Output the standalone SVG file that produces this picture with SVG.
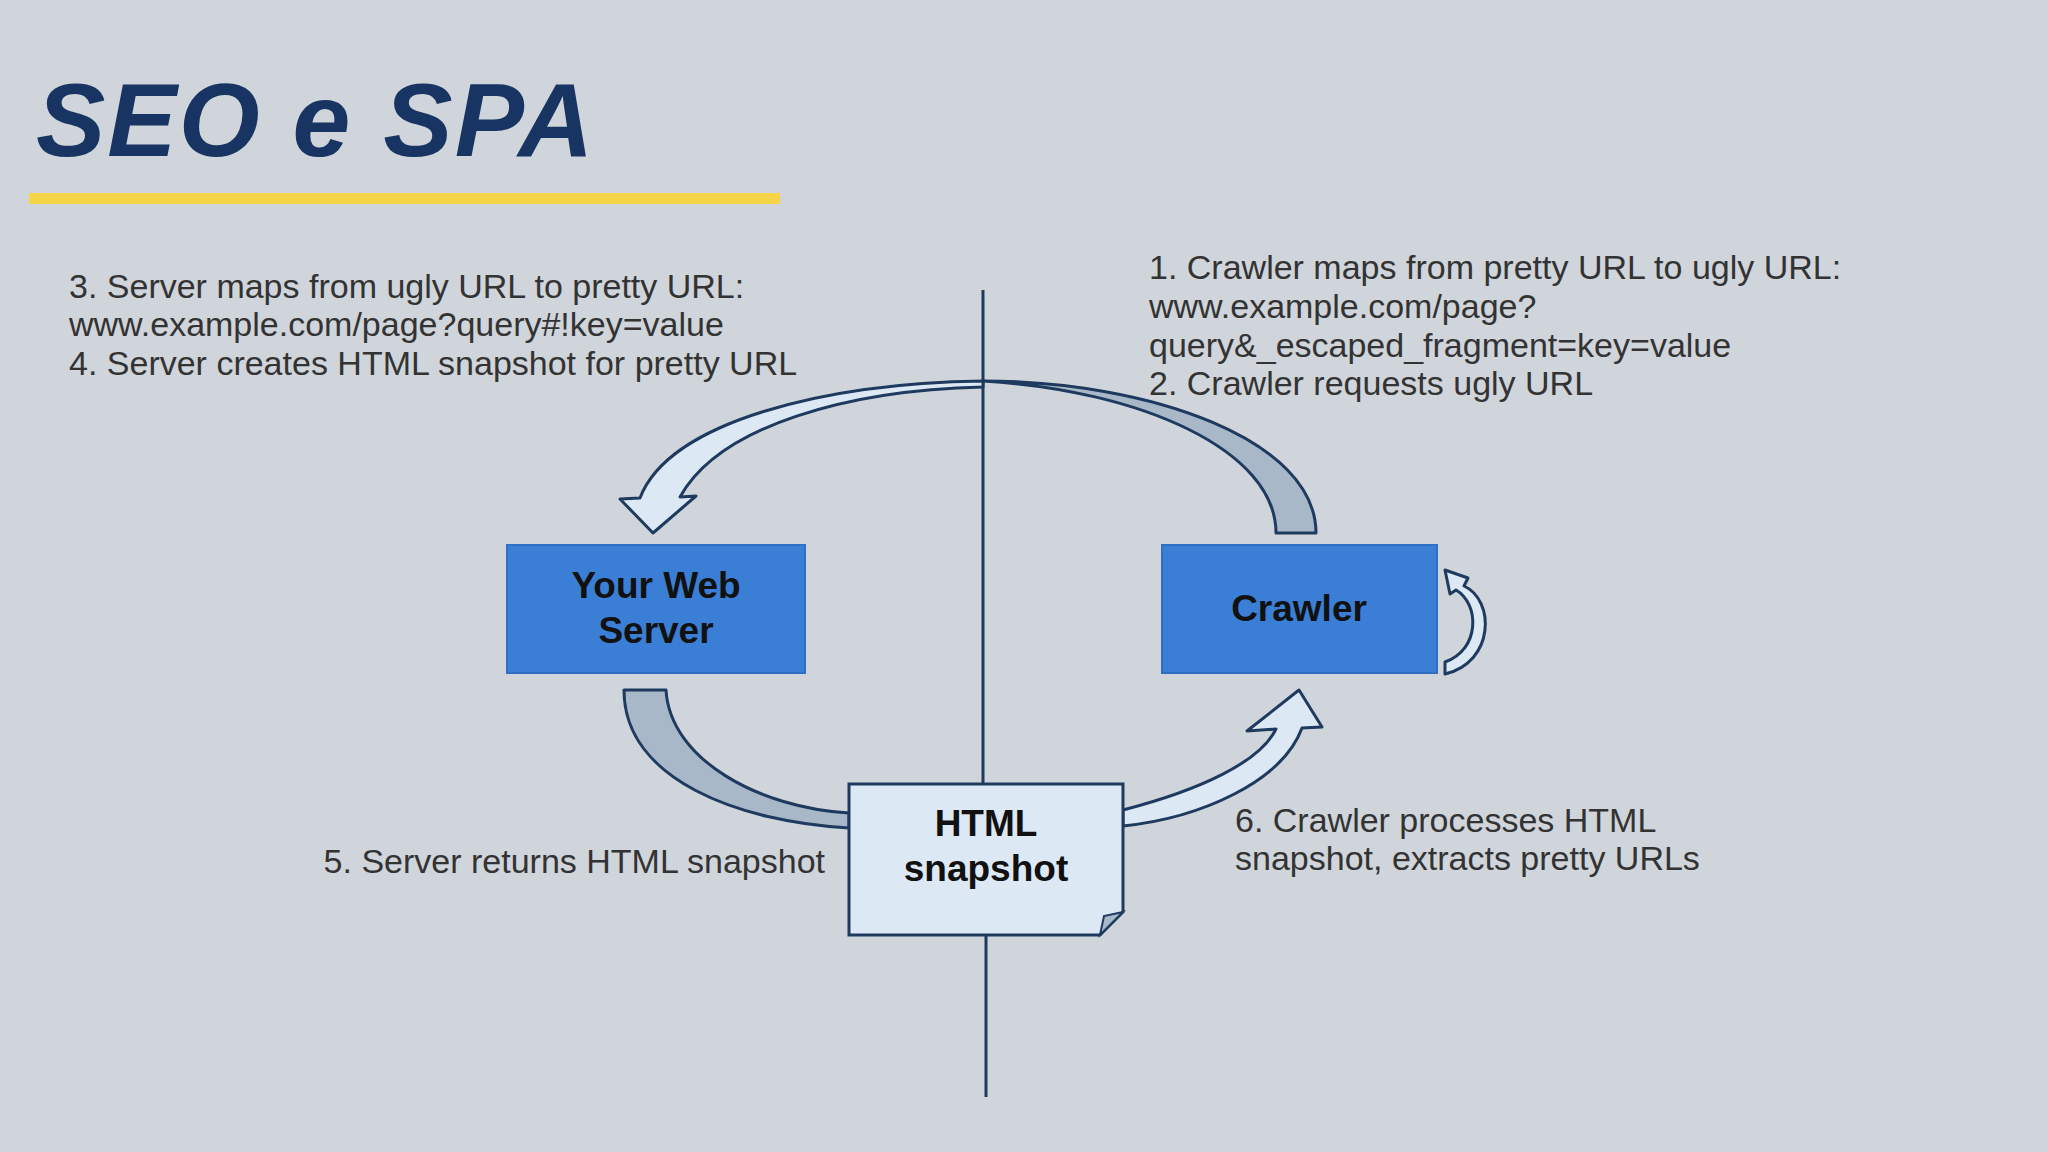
<svg xmlns="http://www.w3.org/2000/svg" width="2048" height="1152" viewBox="0 0 2048 1152">
<style>
.t{font-family:"Liberation Sans",Arial,sans-serif;font-size:34px;fill:#333}
.n{font-family:"Liberation Sans",Arial,sans-serif;font-size:37px;fill:#111;text-anchor:middle;font-weight:bold}
.box{fill:#3a7fd5;stroke:#2e6fc4;stroke-width:2}
.ad{fill:#a9b8c8;stroke:#1e3a5f;stroke-width:3;stroke-linejoin:round}
.al{fill:#dde8f5;stroke:#1e3a5f;stroke-width:3;stroke-linejoin:round}
</style>
<rect width="2048" height="1152" fill="#d0d5db"/>
<text x="36" y="156" font-family="Liberation Sans,Arial,sans-serif" font-size="104" font-weight="bold" font-style="italic" fill="#173463" letter-spacing="2">SEO e SPA</text>
<rect x="29" y="193" width="751" height="11" fill="#f5d547"/>
<g id="connectors">
<line x1="983" y1="290" x2="983" y2="784" stroke="#1e3a5f" stroke-width="3"/>
<line x1="986" y1="935" x2="986" y2="1097" stroke="#1e3a5f" stroke-width="3"/>
<path class="ad" d="M1316,533 C1316,440 1150,381 983,381 C1140,390 1276,450 1276,533 Z"/>
<path class="al" d="M983,381 C830,383 670,420 640,498 L620,499 L653,533 L696,496 L680,497 C720,425 850,390 983,387 Z"/>
<path class="ad" d="M624,690 L666,690 C670,760 760,808 849,813 L849,828 C740,822 624,780 624,690 Z"/>
<path class="al" d="M1123,810 C1200,790 1260,762 1276,729 L1247,731 L1299,690 L1322,727 L1302,728 C1282,782 1200,818 1123,826 Z"/>
<path class="al" d="M1445,674 C1495,662 1495,600 1464,586 L1468,578 L1445,570 L1450,594 L1456,590 C1480,604 1480,650 1445,662 Z"/>
</g>
<g id="server"><rect class="box" x="507" y="545" width="298" height="128"/>
<text class="n" x="656" y="598">Your Web</text><text class="n" x="656" y="643">Server</text></g>
<g id="crawler"><rect class="box" x="1162" y="545" width="275" height="128"/>
<text class="n" x="1299" y="621">Crawler</text></g>
<g id="snapshot"><path d="M849,784 H1123 V912 L1100,935 H849 Z" fill="#dde8f5" stroke="#1e3a5f" stroke-width="3"/>
<path d="M1123,912 L1100,935 L1104,916 Z" fill="#a9b8c8" stroke="#1e3a5f" stroke-width="2"/>
<text class="n" x="986" y="836">HTML</text><text class="n" x="986" y="881">snapshot</text></g>
<g id="labels">
<text class="t" x="69" y="298">3. Server maps from ugly URL to pretty URL:</text>
<text class="t" x="69" y="336">www.example.com/page?query#!key=value</text>
<text class="t" x="69" y="375">4. Server creates HTML snapshot for pretty URL</text>
<text class="t" x="1149" y="279">1. Crawler maps from pretty URL to ugly URL:</text>
<text class="t" x="1149" y="318">www.example.com/page?</text>
<text class="t" x="1149" y="357">query&amp;_escaped_fragment=key=value</text>
<text class="t" x="1149" y="395">2. Crawler requests ugly URL</text>
<text class="t" x="825" y="873" text-anchor="end">5. Server returns HTML snapshot</text>
<text class="t" x="1235" y="832">6. Crawler processes HTML</text>
<text class="t" x="1235" y="870">snapshot, extracts pretty URLs</text>
</g>
</svg>
